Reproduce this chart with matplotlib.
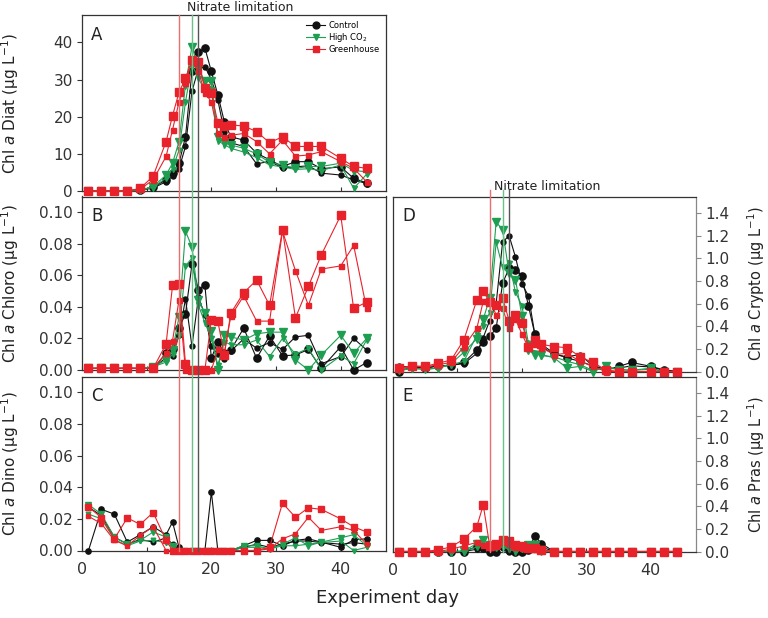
import matplotlib
matplotlib.use("Agg")
import matplotlib.pyplot as plt
from matplotlib.lines import Line2D
from matplotlib.transforms import blended_transform_factory

plt.rcParams['font.family'] = ['DejaVu Sans']
plt.rcParams['mathtext.fontset'] = 'dejavusans'

days = [1, 3, 5, 7, 9, 11, 13, 14, 15, 16, 17, 18, 19, 20, 21, 22, 23, 25, 27, 29, 31, 33, 35, 37, 40, 42, 44]

# Panel A: Diatoms (ug/L)
diat_control_1 = [0.1, 0.1, 0.1, 0.1, 0.3, 1.0, 3.0, 4.8, 7.5, 14.6, 32.2, 37.4, 38.5, 32.2, 25.9, 18.7, 14.6, 13.7, 10.2, 8.4, 6.6, 7.9, 7.9, 6.0, 6.5, 3.4, 2.2]
diat_control_2 = [0.1, 0.1, 0.1, 0.1, 0.2, 0.8, 2.5, 4.0, 6.0, 12.0, 26.8, 33.0, 33.5, 30.0, 24.5, 16.0, 13.0, 12.0, 7.3, 8.0, 6.2, 6.5, 6.8, 4.8, 4.3, 3.0, 2.0]
diat_highco2_1 = [0.0, 0.0, 0.0, 0.0, 0.2, 1.2, 4.3, 7.5, 13.3, 28.6, 38.9, 33.0, 29.5, 29.5, 14.6, 13.3, 12.4, 11.5, 10.0, 7.7, 7.0, 6.1, 6.6, 6.6, 7.5, 5.5, 5.2]
diat_highco2_2 = [0.0, 0.0, 0.0, 0.0, 0.2, 1.0, 3.5, 6.0, 11.0, 24.0, 34.0, 30.4, 27.0, 27.5, 13.5, 12.5, 11.5, 10.5, 9.0, 7.0, 6.5, 5.8, 6.0, 5.5, 7.0, 0.7, 4.5]
diat_green_1 = [0.0, 0.0, 0.0, 0.0, 0.7, 4.0, 13.3, 20.3, 26.6, 30.3, 35.3, 34.7, 27.7, 26.3, 18.4, 17.5, 17.8, 17.5, 16.0, 13.0, 14.6, 12.0, 12.0, 12.0, 8.8, 6.6, 6.1]
diat_green_2 = [0.0, 0.0, 0.0, 0.0, 0.5, 3.0, 9.3, 16.5, 24.0, 29.0, 35.0, 32.2, 26.5, 24.0, 15.5, 14.5, 15.0, 15.5, 13.3, 10.0, 13.7, 9.4, 9.7, 10.6, 7.9, 6.1, 2.5]

# Panel B: Chlorophytes
chlo_control_1 = [0.001, 0.001, 0.001, 0.001, 0.001, 0.001, 0.0106, 0.013, 0.0265, 0.0356, 0.067, 0.051, 0.054, 0.0074, 0.018, 0.0106, 0.0127, 0.0265, 0.0074, 0.0216, 0.009, 0.0095, 0.013, 0.001, 0.0148, 0.0, 0.0047]
chlo_control_2 = [0.001, 0.001, 0.001, 0.001, 0.001, 0.001, 0.008, 0.009, 0.022, 0.045, 0.015, 0.046, 0.035, 0.015, 0.010, 0.007, 0.012, 0.0197, 0.0138, 0.0174, 0.013, 0.021, 0.022, 0.004, 0.0085, 0.020, 0.0127]
chlo_highco2_1 = [0.001, 0.001, 0.001, 0.001, 0.001, 0.002, 0.0064, 0.0127, 0.0335, 0.088, 0.078, 0.0445, 0.036, 0.025, 0.0, 0.022, 0.021, 0.019, 0.023, 0.024, 0.024, 0.0064, 0.0, 0.0095, 0.022, 0.0106, 0.020]
chlo_highco2_2 = [0.001, 0.001, 0.001, 0.001, 0.001, 0.002, 0.005, 0.010, 0.022, 0.066, 0.071, 0.041, 0.030, 0.020, 0.003, 0.018, 0.016, 0.016, 0.019, 0.0085, 0.020, 0.010, 0.0138, 0.0, 0.009, 0.004, 0.019]
chlo_green_1 = [0.001, 0.0015, 0.001, 0.0015, 0.001, 0.001, 0.0165, 0.0536, 0.0545, 0.004, 0.0, 0.0, 0.0, 0.032, 0.031, 0.0095, 0.036, 0.049, 0.057, 0.041, 0.089, 0.033, 0.053, 0.073, 0.098, 0.039, 0.043]
chlo_green_2 = [0.001, 0.001, 0.001, 0.001, 0.001, 0.001, 0.0106, 0.0186, 0.0445, 0.0, 0.0, 0.0, 0.0, 0.0, 0.013, 0.011, 0.034, 0.047, 0.031, 0.031, 0.088, 0.063, 0.041, 0.064, 0.066, 0.079, 0.039]

# Panel C: Dinoflagellates
dino_control_1 = [0.0, 0.026, 0.023, 0.0053, 0.010, 0.015, 0.010, 0.018, 0.002, 0, 0, 0, 0, 0.037, 0, 0, 0, 0.003, 0.0064, 0.0064, 0.003, 0.0064, 0.0074, 0.0053, 0.002, 0.0068, 0.0074]
dino_control_2 = [0.0275, 0.022, 0.0085, 0.004, 0.007, 0.0053, 0.008, 0.004, 0.0, 0, 0, 0, 0, 0, 0, 0, 0, 0.002, 0.004, 0.002, 0.004, 0.006, 0.006, 0.005, 0.004, 0.005, 0.004]
dino_highco2_1 = [0.029, 0.023, 0.0085, 0.004, 0.0064, 0.0117, 0.0085, 0.003, 0, 0, 0, 0, 0, 0, 0, 0, 0, 0.003, 0.003, 0.001, 0.004, 0.008, 0.003, 0.0053, 0.008, 0.010, 0.003]
dino_highco2_2 = [0.023, 0.020, 0.007, 0.003, 0.006, 0.0064, 0.005, 0.002, 0, 0, 0, 0, 0, 0, 0, 0, 0, 0.002, 0.002, 0.001, 0.003, 0.003, 0.004, 0.005, 0.006, 0.0, 0.002]
dino_green_1 = [0.0275, 0.0208, 0.0074, 0.0206, 0.0165, 0.024, 0.0064, 0, 0, 0, 0, 0, 0, 0, 0, 0, 0, 0, 0, 0.002, 0.030, 0.021, 0.027, 0.026, 0.020, 0.015, 0.0117]
dino_green_2 = [0.0216, 0.017, 0.0064, 0.003, 0.0095, 0.015, 0.0, 0, 0, 0, 0, 0, 0, 0, 0, 0, 0, 0, 0, 0.001, 0.0074, 0.0106, 0.021, 0.0127, 0.015, 0.0127, 0.004]

# Panel D: Cryptophytes
cryp_control_1 = [0.0, 0.045, 0.03, 0.05, 0.05, 0.08, 0.19, 0.26, 0.31, 0.38, 0.78, 0.91, 0.90, 0.84, 0.58, 0.33, 0.24, 0.16, 0.12, 0.09, 0.05, 0.01, 0.045, 0.08, 0.045, 0.015, 0.0]
cryp_control_2 = [0.045, 0.04, 0.03, 0.05, 0.055, 0.07, 0.16, 0.30, 0.45, 0.60, 1.14, 1.20, 1.01, 0.77, 0.67, 0.33, 0.22, 0.15, 0.13, 0.15, 0.05, 0.024, 0.03, 0.05, 0.04, 0.01, 0.0]
cryp_highco2_1 = [0.015, 0.03, 0.02, 0.03, 0.07, 0.17, 0.29, 0.46, 0.65, 1.32, 1.25, 0.87, 0.81, 0.49, 0.19, 0.15, 0.15, 0.12, 0.03, 0.045, 0.0, 0.05, 0.015, 0.01, 0.03, 0.0, 0.0]
cryp_highco2_2 = [0.01, 0.025, 0.02, 0.03, 0.06, 0.09, 0.32, 0.40, 0.52, 1.14, 0.92, 0.96, 0.70, 0.58, 0.25, 0.16, 0.14, 0.13, 0.09, 0.06, 0.01, 0.03, 0.02, 0.01, 0.02, 0.0, 0.0]
cryp_green_1 = [0.03, 0.05, 0.045, 0.074, 0.10, 0.28, 0.63, 0.71, 0.61, 0.59, 0.65, 0.45, 0.50, 0.43, 0.22, 0.28, 0.24, 0.22, 0.21, 0.13, 0.08, 0.015, 0.0, 0.0, 0.0, 0.0, 0.0]
cryp_green_2 = [0.02, 0.045, 0.04, 0.06, 0.08, 0.22, 0.38, 0.62, 0.63, 0.50, 0.56, 0.38, 0.46, 0.33, 0.21, 0.24, 0.21, 0.15, 0.16, 0.09, 0.045, 0.0, 0.0, 0.0, 0.0, 0.0, 0.0]

# Panel E: Prasinophytes
pras_control_1 = [0, 0, 0, 0, 0, 0, 0.045, 0.03, 0, 0, 0.045, 0.01, 0, 0, 0.01, 0.14, 0.07, 0, 0, 0, 0, 0, 0, 0, 0, 0, 0]
pras_control_2 = [0, 0, 0, 0, 0, 0, 0.02, 0.05, 0, 0, 0.03, 0, 0, 0, 0.02, 0.07, 0.04, 0, 0, 0, 0, 0, 0, 0, 0, 0, 0]
pras_highco2_1 = [0, 0, 0, 0, 0, 0.005, 0.07, 0.10, 0.06, 0.045, 0.06, 0.03, 0.02, 0.03, 0.06, 0.06, 0.01, 0, 0, 0, 0, 0, 0, 0, 0, 0, 0]
pras_highco2_2 = [0, 0, 0, 0, 0, 0, 0.04, 0.06, 0.03, 0.03, 0.04, 0.02, 0, 0.02, 0.04, 0.03, 0, 0, 0, 0, 0, 0, 0, 0, 0, 0, 0]
pras_green_1 = [0, 0, 0, 0.015, 0.04, 0.11, 0.22, 0.41, 0.05, 0.07, 0.10, 0.09, 0.06, 0.045, 0.03, 0.03, 0.015, 0, 0, 0, 0, 0, 0, 0, 0, 0, 0]
pras_green_2 = [0, 0, 0, 0, 0.02, 0.05, 0.08, 0.06, 0.04, 0.05, 0.08, 0.07, 0.04, 0.03, 0.02, 0.02, 0.01, 0, 0, 0, 0, 0, 0, 0, 0, 0, 0]

treatments = ["Control", "High CO$_2$", "Greenhouse"]
limit_days = [18, 17, 15]
colors = ["#111111", "#1d9e50", "#e8222b"]
vline_colors = ["#555555", "#6cc08a", "#e87070"]
markers = ["o", "v", "s"]

panels = {
    "A": (diat_control_1, diat_control_2, diat_highco2_1, diat_highco2_2, diat_green_1, diat_green_2),
    "B": (chlo_control_1, chlo_control_2, chlo_highco2_1, chlo_highco2_2, chlo_green_1, chlo_green_2),
    "C": (dino_control_1, dino_control_2, dino_highco2_1, dino_highco2_2, dino_green_1, dino_green_2),
    "D": (cryp_control_1, cryp_control_2, cryp_highco2_1, cryp_highco2_2, cryp_green_1, cryp_green_2),
    "E": (pras_control_1, pras_control_2, pras_highco2_1, pras_highco2_2, pras_green_1, pras_green_2),
}

W, H = 768, 618
fig = plt.figure(figsize=(W / 100, H / 100), dpi=100)

def box(x0, x1, ytop, ybot):
    return [x0 / W, 1 - ybot / H, (x1 - x0) / W, (ybot - ytop) / H]

axes = {
    "A": fig.add_axes(box(82, 386, 15, 191)),
    "B": fig.add_axes(box(82, 386, 196.5, 370)),
    "C": fig.add_axes(box(82, 386, 376.5, 550.5)),
    "D": fig.add_axes(box(393, 696, 197, 371.5)),
    "E": fig.add_axes(box(393, 696, 377, 551.5)),
}

ylims = {"A": (0, 47.4), "B": (0, 0.11), "C": (0, 0.11), "D": (0, 1.54), "E": (0, 1.54)}
yticks = {"A": [0, 10, 20, 30, 40],
          "B": [0.0, 0.02, 0.04, 0.06, 0.08, 0.10],
          "C": [0.0, 0.02, 0.04, 0.06, 0.08, 0.10],
          "D": [0.0, 0.2, 0.4, 0.6, 0.8, 1.0, 1.2, 1.4],
          "E": [0.0, 0.2, 0.4, 0.6, 0.8, 1.0, 1.2, 1.4]}
yfmt = {"A": "{:.0f}", "B": "{:.2f}", "C": "{:.2f}", "D": "{:.1f}", "E": "{:.1f}"}
ylabels = {"A": "Chl $\\it{a}$ Diat (μg L$^{-1}$)",
           "B": "Chl $\\it{a}$ Chloro (μg L$^{-1}$)",
           "C": "Chl $\\it{a}$ Dino (μg L$^{-1}$)",
           "D": "Chl $\\it{a}$ Crypto (μg L$^{-1}$)",
           "E": "Chl $\\it{a}$ Pras (μg L$^{-1}$)"}

for key, ax in axes.items():
    data = panels[key]
    big = 5.2 if key != "C" else 3.8
    small = 3.6 if key != "C" else 3.3
    for t in range(3):
        for r in range(2):
            vals = data[2 * t + r]
            ms = big if r == 0 else small
            ax.plot(days, vals, color=colors[t], marker=markers[t], ms=ms,
                    mec=colors[t], mfc=colors[t], lw=0.8, clip_on=False,
                    zorder=3 + t, label=treatments[t] if r == 0 else None)
    ax.set_xlim(0, 47)
    ax.set_ylim(*ylims[key])
    ax.set_xticks([0, 10, 20, 30, 40])
    ax.set_yticks(yticks[key])
    ax.set_yticklabels([yfmt[key].format(v) for v in yticks[key]])
    ax.tick_params(axis="x", direction="in", length=3, labelsize=11.5, colors="#333333",
                   labelbottom=key in ("C", "E"), pad=8)
    right = key in ("D", "E")
    ax.tick_params(axis="y", direction="out", length=3.5, labelsize=11, colors="#333333",
                   left=not right, labelleft=not right, right=right, labelright=right, pad=3)
    for s in ax.spines.values():
        s.set_color("#333333")
        s.set_linewidth(0.9)
    if right:
        ax.spines["right"].set_color("#888888")
        ax.tick_params(axis="y", color="#888888")
        ax.yaxis.set_label_position("right")
        ax.set_ylabel(ylabels[key], fontsize=10.5, color="#222222", rotation=90)
        ax.yaxis.set_label_coords(1.163, 0.5)
    else:
        ax.set_ylabel(ylabels[key], fontsize=11, color="#222222")
        ax.yaxis.set_label_coords(-0.2, 0.5)
    ax.text(0.03, 0.94, key, transform=ax.transAxes, fontsize=12, va="top", ha="left", color="#222222")

# Nitrate limitation lines spanning panels
for d, c in zip(limit_days, vline_colors):
    tr = blended_transform_factory(axes["C"].transData, fig.transFigure)
    fig.add_artist(Line2D([d, d], [1 - 15 / H, 1 - 550.5 / H], transform=tr, color=c, lw=1.0, zorder=1))
    tr2 = blended_transform_factory(axes["E"].transData, fig.transFigure)
    fig.add_artist(Line2D([d, d], [1 - 190 / H, 1 - 551.5 / H], transform=tr2, color=c, lw=1.0, zorder=1))

fig.text(240 / W, 1 - 7.5 / H, "Nitrate limitation", ha="center", va="center", fontsize=9, color="#222222")
fig.text(547 / W, 1 - 186 / H, "Nitrate limitation", ha="center", va="center", fontsize=9, color="#222222")
fig.text(387 / W, 1 - 598 / H, "Experiment day", ha="center", va="center", fontsize=13, color="#222222")

leg = axes["A"].legend(loc="upper right", bbox_to_anchor=(1.0, 1.0), frameon=False, fontsize=6,
                       handlelength=2.3, handletextpad=0.4, labelspacing=0.1, borderaxespad=0.35,
                       markerscale=0.95)

fig.savefig("out.png", dpi=100)
